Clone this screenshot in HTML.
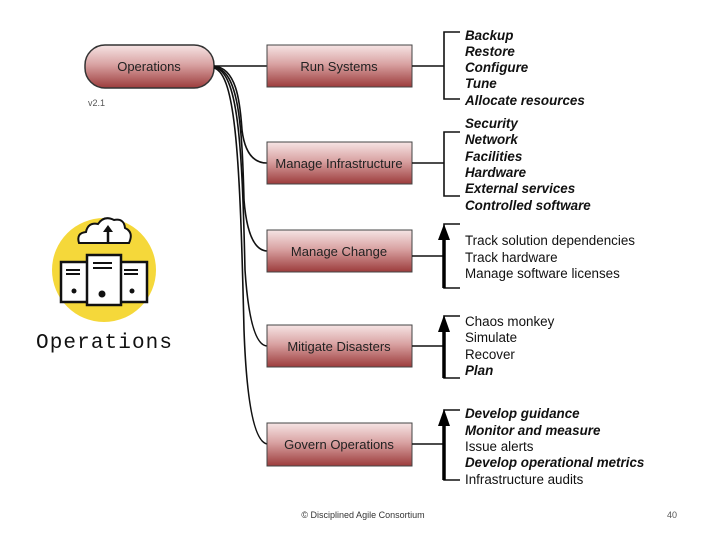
<!DOCTYPE html>
<html><head><style>
body{margin:0;background:#fff;}
svg{display:block;}
.t{font-family:"Liberation Sans",sans-serif;font-size:13.4px;fill:#111;}
.bi{font-weight:bold;font-style:italic;}
.bx{font-family:"Liberation Sans",sans-serif;font-size:13px;fill:#222;text-anchor:middle;}
</style></head><body>
<svg width="720" height="540" viewBox="0 0 720 540" xmlns="http://www.w3.org/2000/svg">
<defs>
<linearGradient id="g" x1="0" y1="0" x2="0" y2="1">
<stop offset="0" stop-color="#f6e4e4"/><stop offset="0.45" stop-color="#d9a3a3"/><stop offset="1" stop-color="#9c3c3c"/>
</linearGradient>
</defs>
<rect x="85" y="45" width="129" height="43" rx="20" fill="url(#g)" stroke="#333" stroke-width="1.5"/>
<text class="bx" x="149" y="71">Operations</text>
<text x="88" y="106" font-family="Liberation Sans,sans-serif" font-size="9" fill="#555">v2.1</text>
<g fill="none" stroke="#111" stroke-width="1.6">
<path d="M214,66 L267,66"/>
<path d="M214,66 C236,68 240,100 242,130 Q246,163 267,163"/>
<path d="M214,67 C238,70 242,120 244,200 Q248,250 267,251"/>
<path d="M214,67 C238,72 242,140 245,270 Q250,345 267,346"/>
<path d="M214,68 C236,74 240,160 244,330 Q248,440 267,444"/>
</g>
<g stroke="#444" stroke-width="1">
<rect x="267" y="45" width="145" height="42" fill="url(#g)"/>
<rect x="267" y="142" width="145" height="42" fill="url(#g)"/>
<rect x="267" y="230" width="145" height="42" fill="url(#g)"/>
<rect x="267" y="325" width="145" height="42" fill="url(#g)"/>
<rect x="267" y="423" width="145" height="43" fill="url(#g)"/>
</g>
<text class="bx" x="339" y="71">Run Systems</text>
<text class="bx" x="339" y="168">Manage Infrastructure</text>
<text class="bx" x="339" y="256">Manage Change</text>
<text class="bx" x="339" y="351">Mitigate Disasters</text>
<text class="bx" x="339" y="449">Govern Operations</text>
<g fill="none" stroke="#111" stroke-width="1.6">
<path d="M412,66 H444 M460,32 H444 V99 H460"/>
<path d="M412,163 H444 M460,132 H444 V196 H460"/>
<path d="M412,256 H444 M460,224 H444 V288 H460"/>
<path d="M412,346 H444 M460,316 H444 V378 H460"/>
<path d="M412,444 H444 M460,410 H444 V480 H460"/>
</g>
<g stroke="#000" stroke-width="3.5">
<line x1="444" y1="238" x2="444" y2="288"/>
<line x1="444" y1="330" x2="444" y2="378"/>
<line x1="444" y1="424" x2="444" y2="480"/>
</g>
<g fill="#000">
<polygon points="444,224 438,240 450,240"/>
<polygon points="444,315 438,332 450,332"/>
<polygon points="444,409 438,426 450,426"/>
</g>
<g class="t bi">
<text x="465" y="40">Backup</text><text x="465" y="56">Restore</text><text x="465" y="72">Configure</text><text x="465" y="88">Tune</text><text x="465" y="105">Allocate resources</text>
<text x="465" y="128">Security</text><text x="465" y="144">Network</text><text x="465" y="161">Facilities</text><text x="465" y="177">Hardware</text><text x="465" y="193">External services</text><text x="465" y="210">Controlled software</text>
<text x="465" y="375">Plan</text>
<text x="465" y="418">Develop guidance</text><text x="465" y="435">Monitor and measure</text><text x="465" y="467">Develop operational metrics</text>
</g>
<g class="t">
<text x="465" y="245">Track solution dependencies</text><text x="465" y="262">Track hardware</text><text x="465" y="278">Manage software licenses</text>
<text x="465" y="326">Chaos monkey</text><text x="465" y="342">Simulate</text><text x="465" y="359">Recover</text>
<text x="465" y="451">Issue alerts</text><text x="465" y="484">Infrastructure audits</text>
</g>
<circle cx="104" cy="270" r="52" fill="#f5d83a"/>
<path d="M79,243 Q76,233 86,232 Q88,222 98,224 Q104,215 114,220 Q124,218 125,228 Q134,232 129,243 Z" fill="#fff" stroke="#111" stroke-width="2"/>
<line x1="108" y1="243" x2="108" y2="230" stroke="#111" stroke-width="2.5"/>
<polygon points="108,225 103,232 113,232" fill="#111"/>
<rect x="61" y="262" width="28" height="40" fill="#fff" stroke="#111" stroke-width="2.5"/>
<rect x="119" y="262" width="28" height="40" fill="#fff" stroke="#111" stroke-width="2.5"/>
<rect x="87" y="255" width="34" height="50" fill="#fff" stroke="#111" stroke-width="2.5"/>
<g stroke="#111" stroke-width="2"><line x1="66" y1="270" x2="80" y2="270"/><line x1="66" y1="274" x2="80" y2="274"/><line x1="124" y1="270" x2="138" y2="270"/><line x1="124" y1="274" x2="138" y2="274"/><line x1="93" y1="263" x2="112" y2="263"/><line x1="93" y1="268" x2="112" y2="268"/></g>
<circle cx="74" cy="291" r="2.5" fill="#111"/><circle cx="132" cy="291" r="2.5" fill="#111"/><circle cx="102" cy="294" r="3.5" fill="#111"/>
<text x="36" y="348" font-family="Liberation Mono,monospace" font-size="21" fill="#111" textLength="136">Operations</text>
<text x="363" y="518" text-anchor="middle" font-family="Liberation Sans,sans-serif" font-size="9" fill="#333">© Disciplined Agile Consortium</text>
<text x="672" y="518" text-anchor="middle" font-family="Liberation Sans,sans-serif" font-size="9" fill="#555">40</text>
</svg>
</body></html>
